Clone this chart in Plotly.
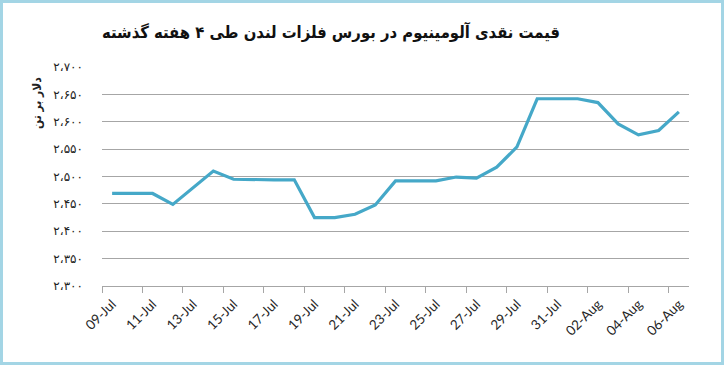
import plotly.graph_objects as go

# ---- data ----
dates = ["09-Jul", "10-Jul", "11-Jul", "12-Jul", "13-Jul", "14-Jul", "15-Jul", "16-Jul",
         "17-Jul", "18-Jul", "19-Jul", "20-Jul", "21-Jul", "22-Jul", "23-Jul", "24-Jul",
         "25-Jul", "26-Jul", "27-Jul", "28-Jul", "29-Jul", "30-Jul", "31-Jul", "01-Aug",
         "02-Aug", "03-Aug", "04-Aug", "05-Aug", "06-Aug"]
prices = [2469, 2469, 2469, 2449, 2479, 2510, 2495, 2494, 2494, 2494, 2425, 2425,
          2431, 2448, 2492, 2492, 2492, 2499, 2497, 2517, 2554, 2642, 2642, 2642,
          2635, 2596, 2576, 2584, 2618]
y_tick_values = [2300, 2350, 2400, 2450, 2500, 2550, 2600, 2650, 2700]
y_tick_labels = ["۲،۳۰۰", "۲،۳۵۰", "۲،۴۰۰", "۲،۴۵۰", "۲،۵۰۰", "۲،۵۵۰", "۲،۶۰۰", "۲،۶۵۰", "۲،۷۰۰"]
title_text = "قیمت نقدی آلومینیوم در بورس فلزات لندن طی ۴ هفته گذشته"
y_title_text = "دلار بر تن"

W, H = 724, 365
ML, MR, MT, MB = 102, 35, 67, 79
PW, PH = W - ML - MR, H - MT - MB

def px_x(x):
    return (x - ML) / PW

def px_y(y):
    return (H - MB - y) / PH

idx = list(range(len(dates)))
label_idx = idx[::2]

fig = go.Figure()
fig.add_trace(go.Scatter(
    x=idx, y=prices, mode="lines",
    line=dict(color="#45a8c8", width=3.2),
    hoverinfo="skip", showlegend=False,
))

fig.update_layout(
    width=W, height=H,
    margin=dict(l=ML, r=MR, t=MT, b=MB),
    paper_bgcolor="white", plot_bgcolor="white",
    font=dict(family="DejaVu Sans", color="#222222"),
    xaxis=dict(
        range=[-0.5, len(dates) - 0.5],
        tickmode="array", tickvals=label_idx, ticktext=[dates[i] for i in label_idx],
        tickangle=-45, ticks="",
        tickfont=dict(family="Lato", size=13.5, color="#262626"),
        showgrid=False, zeroline=False,
        showline=True, linecolor="#a6a6a6", linewidth=1,
        ticklabelstandoff=4,
        minor=dict(ticks="outside", tick0=-0.5, dtick=2, ticklen=6,
                   tickcolor="#a6a6a6", tickwidth=1, showgrid=False),
    ),
    yaxis=dict(
        range=[2300, 2700],
        tickmode="array", tickvals=y_tick_values, ticktext=y_tick_labels,
        tickfont=dict(family="DejaVu Sans", size=12, color="#222222"),
        showgrid=True, gridcolor="#a6a6a6", gridwidth=1.2,
        zeroline=False, showline=False, ticks="",
        ticklabelstandoff=18,
    ),
    annotations=[
        dict(text="<b>" + title_text + "</b>", xref="paper", yref="paper",
             x=px_x(331), y=px_y(32), xanchor="center", yanchor="middle",
             showarrow=False, font=dict(family="DejaVu Sans Condensed, DejaVu Sans", size=16.5, color="#111111")),
        dict(text="<b>" + y_title_text + "</b>", xref="paper", yref="paper",
             x=px_x(37), y=px_y(103), xanchor="center", yanchor="middle",
             textangle=-90, showarrow=False,
             font=dict(family="DejaVu Sans Condensed, DejaVu Sans", size=12, color="#222222")),
    ],
    shapes=[
        dict(type="rect", xref="paper", yref="paper",
             x0=px_x(1.5), x1=px_x(722.5), y0=px_y(363.5), y1=px_y(1.5),
             line=dict(color="#a3d5e5", width=3), fillcolor="rgba(0,0,0,0)", layer="above"),
    ],
)

fig.write_html("out.html", config={"displayModeBar": False},
               post_script="document.body.style.margin='0';document.body.style.overflow='hidden';")
